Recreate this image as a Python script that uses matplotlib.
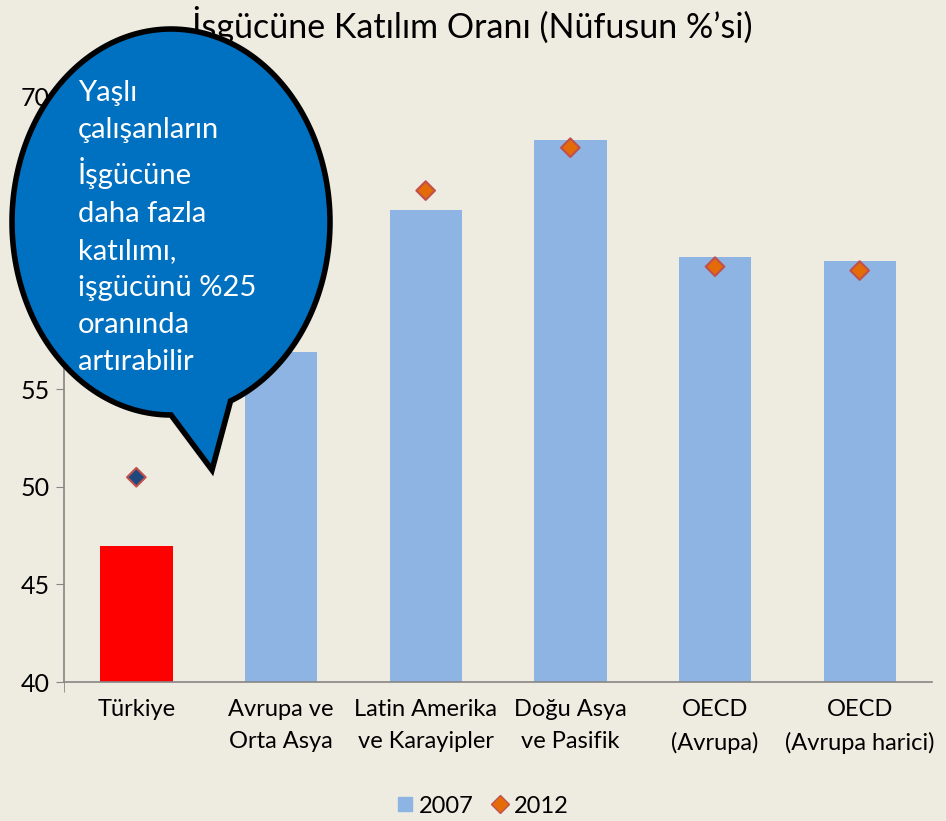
import numpy as np
import matplotlib
matplotlib.use("Agg")
import matplotlib.pyplot as plt
from matplotlib.patches import Polygon
from matplotlib.lines import Line2D

plt.rcParams['font.family'] = ['Lato', 'DejaVu Sans']

categories = ['Türkiye', 'Avrupa ve\nOrta Asya', 'Latin Amerika\nve Karayipler',
              'Doğu Asya\nve Pasifik', 'OECD\n(Avrupa)', 'OECD\n(Avrupa harici)']
values_2007 = [47.0, 56.9, 64.2, 67.8, 61.8, 61.6]
values_2012 = [50.5, 57.6, 65.2, 67.4, 61.3, 61.1]
yticks = [40, 45, 50, 55, 60, 65, 70]
bubble_text = "Yaşlı\nçalışanların\nİşgücüne\ndaha fazla\nkatılımı,\nişgücünü %25\noranında\nartırabilir"

bg = '#EEEBE0'
W, H = 946, 821
fig = plt.figure(figsize=(W / 100, H / 100), dpi=100, facecolor=bg)
ax = fig.add_axes([64 / W, 1 - 682 / H, (932 - 64) / W, (682 - 97) / H])
ax.set_facecolor(bg)

x = np.arange(len(categories))
bar_colors = ['#FF0000'] + ['#8EB4E3'] * (len(categories) - 1)
ax.bar(x, [v - 40 for v in values_2007], bottom=40, width=0.5, color=bar_colors, zorder=2)

face = ['#1F497D'] + ['#E36C09'] * (len(categories) - 1)
ax.scatter(x, values_2012, marker='D', s=90, c=face, edgecolors='#C0504D',
           linewidths=1.5, zorder=3)

ax.set_xlim(-0.5, len(categories) - 0.5)
ax.set_ylim(40, 70)
ax.set_yticks(yticks)
ax.tick_params(axis='y', labelsize=18, length=6, color='#868686', direction='out', pad=4)
ax.set_xticks(x)
ax.set_xticklabels(categories, fontsize=17, linespacing=1.65)
ax.tick_params(axis='x', length=0, pad=12)
ax.set_xticks([-0.5], minor=True)
ax.tick_params(axis='x', which='minor', length=7, color='#868686')
for s in ['top', 'right']:
    ax.spines[s].set_visible(False)
for s in ['left', 'bottom']:
    ax.spines[s].set_color('#868686')
    ax.spines[s].set_linewidth(1.2)

fig.text(472 / W, 1 - 25 / H, 'İşgücüne Katılım Oranı (Nüfusun %’si)',
         ha='center', va='center', fontsize=24.5)

# speech bubble (figure pixel coords, y down)
cx, cy, a, b = 171, 222, 159, 193
t = np.radians(np.linspace(90, 428, 200))
px = cx + a * np.cos(t)
py = cy + b * np.sin(t)
pts = list(zip(px, py)) + [(212, 470)]
pts = [(p[0] / W, 1 - p[1] / H) for p in pts]
bubble = Polygon(pts, closed=True, transform=fig.transFigure, facecolor='#0070C0',
                 edgecolor='black', linewidth=4, joinstyle='miter', zorder=10)
fig.patches.append(bubble)
fig.text(78 / W, 1 - 80 / H, bubble_text, ha='left', va='top', color='white',
         fontsize=21, linespacing=1.53, zorder=11)

handles = [Line2D([], [], marker='s', linestyle='none', markersize=10,
                  markerfacecolor='#8EB4E3', markeredgecolor='#8EB4E3'),
           Line2D([], [], marker='D', linestyle='none', markersize=9,
                  markerfacecolor='#E36C09', markeredgecolor='#C0504D')]
fig.legend(handles, ['2007', '2012'], loc='center', bbox_to_anchor=(481 / W, 1 - 806 / H),
           ncol=2, frameon=False, fontsize=17, handletextpad=0.1, columnspacing=0.6,
           handlelength=1.0)

fig.savefig('out.png', dpi=100, facecolor=bg)
